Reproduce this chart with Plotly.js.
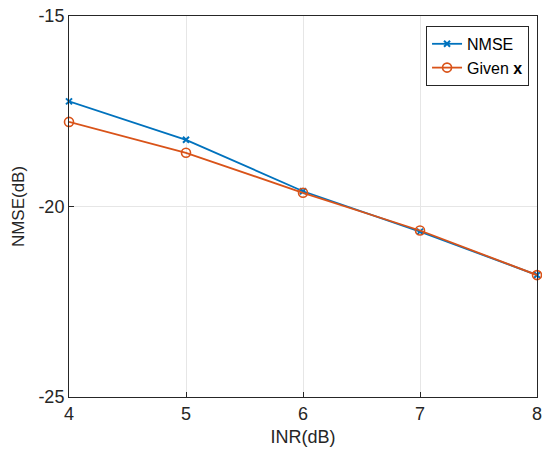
<!DOCTYPE html>
<html>
<head>
<meta charset="utf-8">
<script src="https://cdn.plot.ly/plotly-3.0.1.min.js"></script>
<style>html,body{margin:0;padding:0;background:#fff;}#chart{width:542px;height:452px;}</style>
</head>
<body>
<div id="chart"></div>
<script>
var inr = [4, 5, 6, 7, 8];
var nmse = [-17.24, -18.25, -19.6, -20.66, -21.8];
var givenX = [-17.78, -18.59, -19.64, -20.63, -21.8];
var yTicks = [-25, -20, -15];
var xTicks = [4, 5, 6, 7, 8];

var traces = [
  {x: inr, y: nmse, type: 'scatter', mode: 'lines+markers', name: 'NMSE',
   line: {color: '#0072BD', width: 1.8},
   marker: {symbol: 'x-thin-open', size: 6, color: '#0072BD', line: {color: '#0072BD', width: 2}},
   cliponaxis: false},
  {x: inr, y: givenX, type: 'scatter', mode: 'lines+markers', name: 'Given <b>x</b>',
   line: {color: '#D95319', width: 1.8},
   marker: {symbol: 'circle-open', size: 9, color: '#D95319', line: {color: '#D95319', width: 1.6}},
   cliponaxis: false}
];

var layout = {
  width: 542, height: 452,
  margin: {l: 69, r: 5, t: 16, b: 55},
  paper_bgcolor: '#fff', plot_bgcolor: '#fff',
  font: {family: 'Liberation Sans, Arial, sans-serif', size: 18, color: '#262626'},
  showlegend: true,
  legend: {x: 0.983, y: 0.974, xanchor: 'right', yanchor: 'top',
           bgcolor: '#fff', bordercolor: '#262626', borderwidth: 1,
           font: {size: 16, color: '#000'}, tracegroupgap: 0, itemwidth: 30},
  xaxis: {range: [4, 8], tickvals: xTicks, ticktext: xTicks.map(String),
          showgrid: true, gridcolor: '#e6e6e6', gridwidth: 1,
          showline: true, mirror: true, linecolor: '#262626', linewidth: 1,
          ticks: 'inside', ticklen: 5, tickcolor: '#262626',
          ticklabeloverflow: 'allow',
          zeroline: false, automargin: false, tickfont: {size: 18, color: '#262626'},
          title: {text: 'INR(dB)', font: {size: 18, color: '#262626'}, standoff: 7}},
  yaxis: {range: [-25, -15], tickvals: yTicks, ticktext: yTicks.map(String),
          showgrid: true, gridcolor: '#e6e6e6', gridwidth: 1,
          showline: true, mirror: true, linecolor: '#262626', linewidth: 1,
          ticks: 'inside', ticklen: 5, tickcolor: '#262626',
          ticklabeloverflow: 'allow',
          zeroline: false, automargin: false, tickfont: {size: 18, color: '#262626'},
          title: {text: 'NMSE(dB)', font: {size: 17, color: '#262626'}, standoff: 9}}
};

Plotly.newPlot('chart', traces, layout, {displayModeBar: false, staticPlot: true});
</script>
</body>
</html>
